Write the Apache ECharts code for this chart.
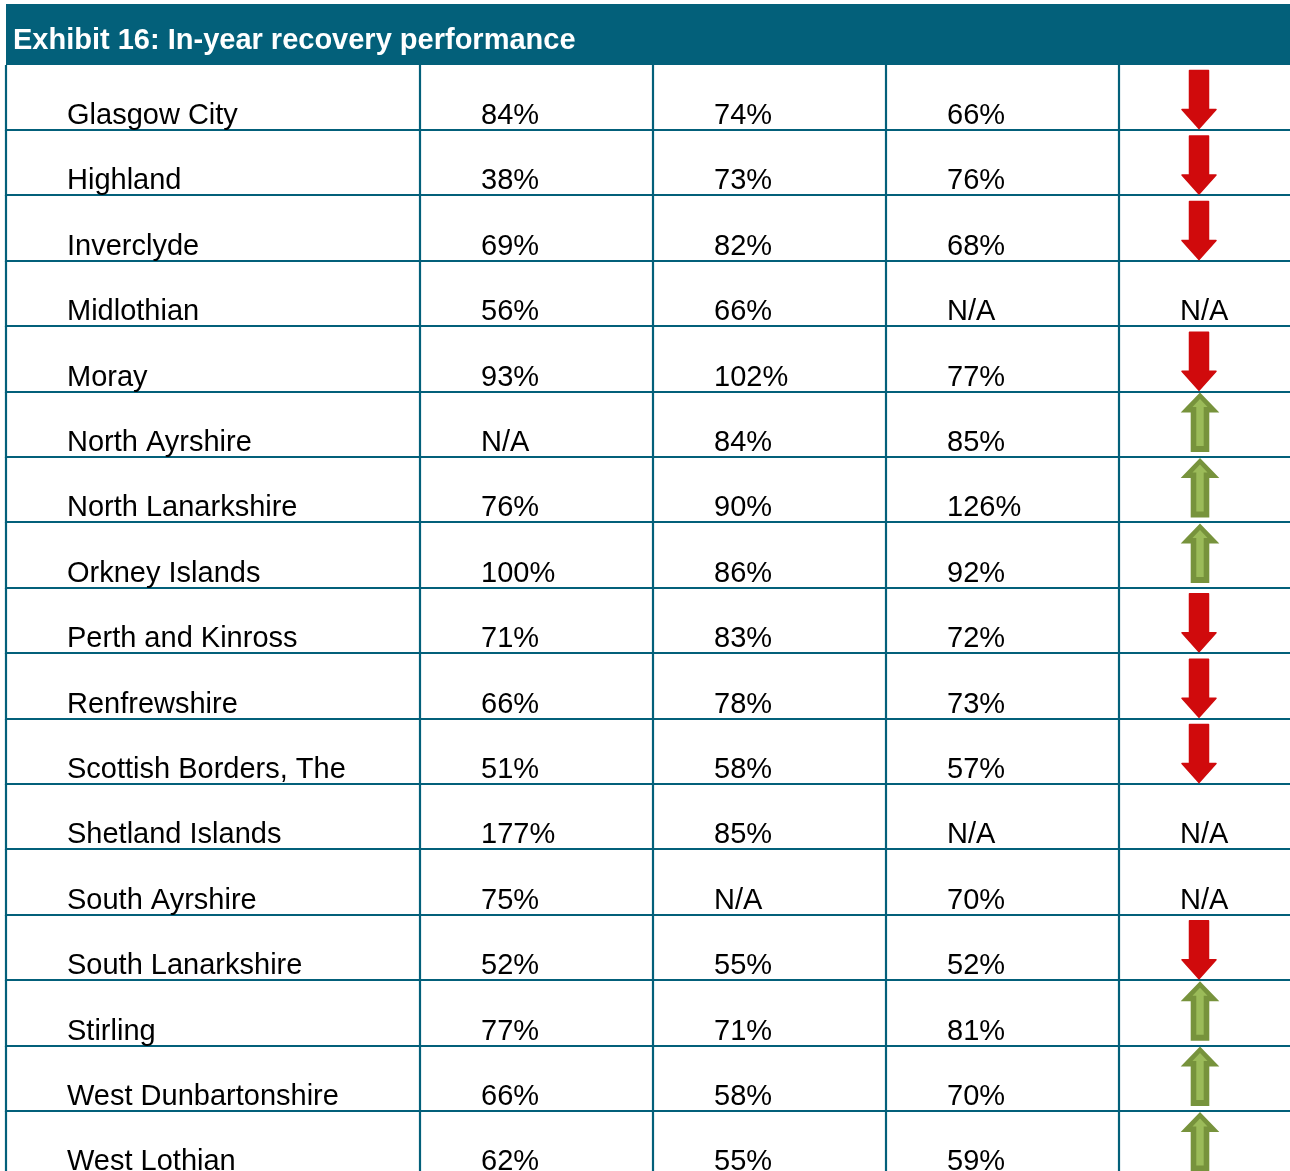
<!DOCTYPE html>
<html>
<head>
<meta charset="utf-8">
<script src="https://cdn.jsdelivr.net/npm/echarts@6/dist/echarts.min.js"></script>
<style>
html,body{margin:0;padding:0;background:#fff;overflow:hidden;}
#chart{width:1290px;height:1171px;}
</style>
</head>
<body>
<div id="chart"></div>
<script>
const title = 'Exhibit 16: In-year recovery performance';
const regions = ['Glasgow City','Highland','Inverclyde','Midlothian','Moray','North Ayrshire','North Lanarkshire','Orkney Islands','Perth and Kinross','Renfrewshire','Scottish Borders, The','Shetland Islands','South Ayrshire','South Lanarkshire','Stirling','West Dunbartonshire','West Lothian'];
const col1 = [84, 38, 69, 56, 93, null, 76, 100, 71, 66, 51, 177, 75, 52, 77, 66, 62];
const col2 = [74, 73, 82, 66, 102, 84, 90, 86, 83, 78, 58, 85, null, 55, 71, 58, 55];
const col3 = [66, 76, 68, null, 77, 85, 126, 92, 72, 73, 57, null, 70, 52, 81, 70, 59];
const trend = ['down','down','down',null,'down','up','up','up','down','down','down',null,null,'down','up','up','up'];

const TEAL = '#03607A';
const RED = '#D00A0C';
const GDARK = '#77933C';
const GLIGHT = '#9BBB59';
const FONT = '29px "Liberation Sans", Arial, sans-serif';
// layout constants
const colEdges = [0, 414, 647, 880, 1113];
const textPad = 61;
const gridTop = 64.6;
const rowH = 65.4;
const H = 1171;
const yMax = -0.5 + (H - gridTop) / rowH;

const chart = echarts.init(document.getElementById('chart'), null, {renderer: 'canvas'});

function fmt(v){ return v == null ? 'N/A' : v + '%'; }

function renderItem(params, api){
  const i = api.value(0);
  const c = api.coord([0, i]);
  const h = api.size([0, 1])[1];
  const top = c[1] - h / 2;
  const bottom = top + h;
  const by = Math.round(bottom);
  const xs = colEdges.map(e => api.coord([e, i])[0]);
  const right = api.coord([1350, i])[0];
  const children = [];
  children.push({type:'line', shape:{x1:Math.round(xs[0])-1, y1:by, x2:right, y2:by}, style:{stroke:TEAL, lineWidth:2.2}});
  xs.forEach(x => children.push({type:'line', shape:{x1:Math.round(x), y1:Math.round(top), x2:Math.round(x), y2:by+1}, style:{stroke:TEAL, lineWidth:2.2}}));
  const ty = bottom - 14;
  const vals = [regions[i], fmt(col1[i]), fmt(col2[i]), fmt(col3[i])];
  vals.forEach((t, k) => children.push({type:'text', style:{x: xs[k] + textPad, y: ty, text: t, font: FONT, fill:'#000', align:'left', verticalAlign:'middle'}}));
  const tr = trend[i];
  if (tr === null) {
    children.push({type:'text', style:{x: xs[4] + textPad, y: ty, text:'N/A', font: FONT, fill:'#000', align:'left', verticalAlign:'middle'}});
  } else if (tr === 'down') {
    const cx = xs[4] + 80;
    const t = top + 5;
    children.push({type:'polygon', shape:{points:[[cx-9.5,t+1],[cx+9.5,t+1],[cx+9.5,t+40],[cx+17,t+40],[cx,t+59],[cx-17,t+40],[cx-9.5,t+40]]}, style:{fill:RED, stroke:RED, lineWidth:1.5, lineJoin:'round'}});
  } else {
    const cx = xs[4] + 81;
    const t = top + 1;
    children.push({type:'polygon', shape:{points:[[cx,t],[cx+19.3,t+20],[cx+9.3,t+20],[cx+9.3,t+59.5],[cx-9.3,t+59.5],[cx-9.3,t+20],[cx-19.3,t+20]]}, style:{fill:GDARK}});
    children.push({type:'polygon', shape:{points:[[cx,t+6.5],[cx+7.5,t+14.5],[cx+3.7,t+14.5],[cx+3.7,t+53.5],[cx-3.7,t+53.5],[cx-3.7,t+14.5],[cx-7.5,t+14.5]]}, style:{fill:GLIGHT}});
  }
  return {type:'group', children};
}

chart.setOption({
  animation: false,
  backgroundColor: '#fff',
  title: {
    text: title, left: 8, top: 21,
    textStyle: {color:'#fff', fontSize:29, fontWeight:'bold', fontFamily:'"Liberation Sans", Arial, sans-serif'}
  },
  graphic: [{type:'rect', left:6, top:4, z:-1, shape:{width:1284, height:61}, style:{fill:TEAL}}],
  grid: {left: 6, top: gridTop, right: 0, bottom: 0},
  xAxis: {type:'value', min:0, max:1284, show:false},
  yAxis: {type:'value', inverse:true, min:-0.5, max:yMax, show:false},
  series: [{
    type:'custom', clip:false,
    data: regions.map((r, i) => [i]),
    encode: {y: 0},
    renderItem
  }]
});
</script>
</body>
</html>
